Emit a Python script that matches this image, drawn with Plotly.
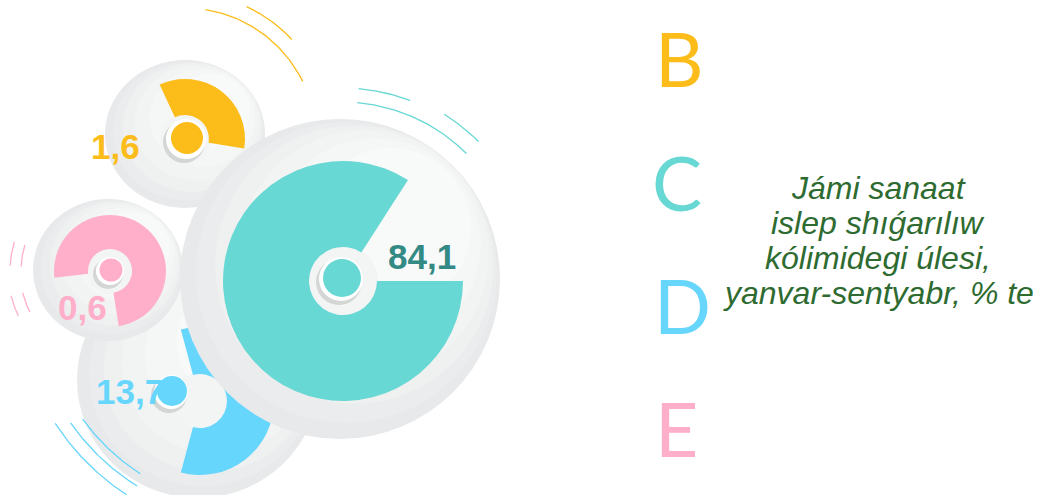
import numpy as np
import plotly.graph_objects as go

W, H = 1040, 495

# ---------------- data ----------------
sectors = ["B", "C", "D", "E"]
shares = [1.6, 84.1, 13.7, 0.6]
share_labels = ["1,6", "84,1", "13,7", "0,6"]
title_lines = ["Jámi sanaat", "islep shıǵarılıw", "kólimidegi úlesi,", "yanvar-sentyabr, % te"]

# ---------------- style ----------------
colors = {"B": "#fcbc19", "C": "#67d8d4", "D": "#66d6fc", "E": "#ffafc9"}
label_colors = {"B": "#fcbc19", "C": "#338a85", "D": "#66d6fc", "E": "#ffafc9"}
# grey backing discs (cx, cy, rx, ry) in pixels
disc = {"D": (198, 380, 121, 118), "E": (108, 270, 75, 71), "B": (185, 134, 80, 74), "C": (340, 279, 160, 160)}
# sector ring geometry: centre, outer radius, hole radius, start angle (clockwise from 12 o'clock)
ring = {"D": (200, 401, 74, 27, 345), "E": (110, 271, 56, 22, 263), "B": (185, 139, 60, 24, 335),
        "C": (343, 281, 120, 34, 90)}
# decorative arc span (degrees) for the small dials; the main dial uses its share
dial_span = {"B": 124, "D": 210, "E": 268}
# centre knob: cx, cy, ring r, dot r
knob = {"D": (171, 392, 17, 15), "E": (110, 271, 14, 11.5), "B": (186, 139, 20, 16), "C": (341, 279, 22, 19)}
label_pos = {"B": (115, 146), "C": (422, 256), "D": (130, 391), "E": (82, 307)}
letter_pos = {"B": (679, 58), "C": (677, 182), "D": (682, 305), "E": (676, 428)}
# decorative motion arcs: (key, cx, cy, r, a0, a1) math angles
motion_arcs = [
    ("B", 185, 139, 131, 81, 26), ("B", 185, 139, 146, 65, 43),
    ("C", 342, 278, 190, 85, 69), ("C", 342, 278, 176, 85, 45), ("C", 342, 278, 193, 58, 45),
    ("E", 110, 271, 100, 163, 177), ("E", 110, 271, 89, 163, 177),
    ("E", 110, 271, 102, 194, 206), ("E", 110, 271, 90, 194, 207),
    ("D", 259, 291, 243, 213, 237), ("D", 259, 291, 230, 215, 238), ("D", 259, 291, 218, 216, 237),
]

# smooth-ish gradient layers: (scale, offset towards upper right, colour)
GRADIENT = [(1.0, 0.0, "#e8e9ea"), (0.94, 0.04, "#ebeced"), (0.87, 0.09, "#eff0f0"),
            (0.78, 0.15, "#f2f3f3"), (0.66, 0.22, "#f5f6f6"), (0.5, 0.32, "#f8f9f9")]
HOLE = "#f3f4f4"

fig = go.Figure()


def add_pie(cx, cy, r, values, cols, hole=0.0, rotation=0):
    fig.add_trace(go.Pie(
        values=values, marker=dict(colors=cols, line=dict(width=0)),
        hole=hole, sort=False, direction="clockwise", rotation=rotation,
        textinfo="none", hoverinfo="skip", showlegend=False,
        domain=dict(x=[(cx - r) / W, (cx + r) / W], y=[(H - (cy + r)) / H, (H - (cy - r)) / H]),
    ))


# backing discs as shapes for the three small dials (bottom-most)
shapes = []
for k in ["D", "E", "B"]:
    cx, cy, rx, ry = disc[k]
    for sc, off, col in GRADIENT:
        x0, x1 = cx + off * rx - sc * rx, cx + off * rx + sc * rx
        y0, y1 = cy - off * ry - sc * ry, cy - off * ry + sc * ry
        shapes.append(dict(type="circle", xref="x", yref="y", x0=x0, x1=x1, y0=y0, y1=y1,
                           fillcolor=col, line=dict(width=0), layer="below"))

# motion arcs
for k, cx, cy, r, a0, a1 in motion_arcs:
    t = np.radians(np.linspace(a0, a1, 60))
    fig.add_trace(go.Scatter(x=cx + r * np.cos(t), y=cy - r * np.sin(t), mode="lines",
                             line=dict(color=colors[k], width=1.3), hoverinfo="skip", showlegend=False))


def draw_dial(k, share):
    cx, cy, r, rh, rot = ring[k]
    add_pie(cx, cy, rh + 1, [1], [HOLE])
    span = share / 100 * 360 if k == "C" else dial_span[k]
    add_pie(cx, cy, r, [span, 360 - span], [colors[k], "rgba(0,0,0,0)"], hole=rh / r, rotation=rot)
    kx, ky, kr, dr = knob[k]
    add_pie(kx - 2, ky + 3, kr + 1, [1], ["rgba(90,90,90,0.2)"])
    add_pie(kx, ky, kr, [1], ["#ffffff"])
    add_pie(kx + 1, ky - 1, dr, [1], [colors[k]])


share_of = dict(zip(sectors, shares))
label_of = dict(zip(sectors, share_labels))

draw_dial("D", share_of["D"])
draw_dial("E", share_of["E"])
draw_dial("B", share_of["B"])

# main disc as pies so it covers the lower dial
cx, cy, rx, ry = disc["C"]
for sc, off, col in GRADIENT:
    add_pie(cx + off * rx, cy - off * ry, sc * rx, [1], [col])
draw_dial("C", share_of["C"])

annotations = []
for k in sectors:
    x, y = label_pos[k]
    annotations.append(dict(x=x, y=y, xref="x", yref="y", text=label_of[k], showarrow=False,
                            xanchor="center", yanchor="middle",
                            font=dict(family="Liberation Sans, Arial", size=35, weight="bold",
                                      color=label_colors[k])))
    lx, ly = letter_pos[k]
    annotations.append(dict(x=lx, y=ly, xref="x", yref="y", text=k, showarrow=False,
                            xanchor="center", yanchor="middle",
                            font=dict(family="Lato, Open Sans", size=75, color=colors[k])))

for i, line in enumerate(title_lines):
    annotations.append(dict(x=878, y=188 + 35 * i, xref="x", yref="y", text=line, showarrow=False,
                            xanchor="center", yanchor="middle",
                            font=dict(family="Liberation Sans, Arial", size=32, style="italic",
                                      color="#2e6b31")))

fig.update_layout(
    width=W, height=H, margin=dict(l=0, r=0, t=0, b=0),
    paper_bgcolor="white", plot_bgcolor="white",
    xaxis=dict(range=[0, W], visible=False, fixedrange=True),
    yaxis=dict(range=[H, 0], visible=False, fixedrange=True),
    shapes=shapes, annotations=annotations,
)

fig.write_html("out.html", config={"displayModeBar": False},
               post_script="document.body.style.margin='0';document.body.style.overflow='hidden';")
